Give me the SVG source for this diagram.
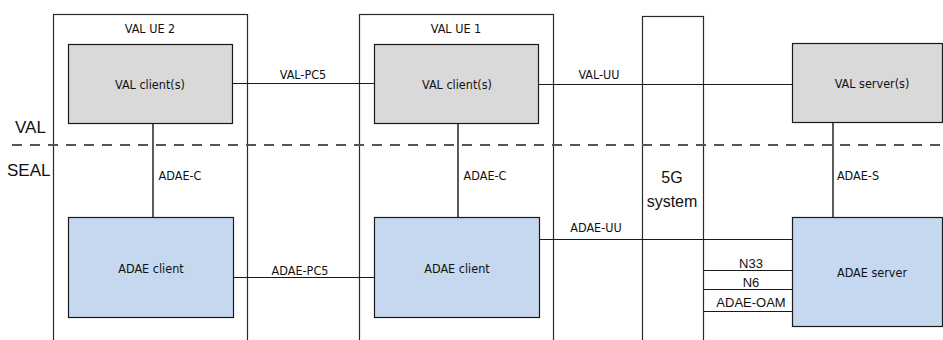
<svg xmlns="http://www.w3.org/2000/svg" width="943" height="340" viewBox="0 0 943 340">
  <style>
    .frame { fill: #ffffff; stroke: #2a2a2a; stroke-width: 1.2; }
    .val { fill: #d9d9d9; stroke: #1a1a1a; stroke-width: 1.2; }
    .adae { fill: #c6d8ef; stroke: #1a1a1a; stroke-width: 1.2; }
    .link { fill: none; stroke: #1a1a1a; stroke-width: 1.2; }
    .drop { fill: none; stroke: #333333; stroke-width: 1.6; }
    .layer { fill: none; stroke: #555555; stroke-width: 2; stroke-dasharray: 10 8; }
    .lbl { font-family: "Liberation Sans Narrow", "DejaVu Sans Condensed", "Liberation Sans", sans-serif; font-size: 12.5px; fill: #111111; }
    .mid { text-anchor: middle; }
    .big { font-family: "Liberation Sans", Arial, sans-serif; font-size: 17px; fill: #111111; }
    .sys { font-family: "Liberation Sans", Arial, sans-serif; font-size: 16px; fill: #111111; text-anchor: middle; }
    .iface { font-family: "Liberation Sans", Arial, sans-serif; font-size: 13px; fill: #111111; text-anchor: middle; }
  </style>

  <!-- UE frames and 5G system column -->
  <g id="ue2">
    <rect class="frame" x="53.5" y="14.5" width="194" height="340"/>
    <text class="lbl mid" x="150" y="33">VAL UE 2</text>
  </g>
  <g id="ue1">
    <rect class="frame" x="359.5" y="14.5" width="194" height="340"/>
    <text class="lbl mid" x="456" y="33">VAL UE 1</text>
  </g>
  <g id="system5g">
    <rect class="frame" x="642.5" y="16.5" width="61" height="340"/>
    <text class="sys" x="672" y="183">5G</text>
    <text class="sys" x="672" y="207">system</text>
  </g>

  <!-- Layer boundary -->
  <g id="layers">
    <line class="layer" x1="12" y1="145" x2="943" y2="145"/>
    <text class="big" x="15" y="133">VAL</text>
    <text class="big" x="7" y="176">SEAL</text>
  </g>

  <!-- Connectors -->
  <g id="connectors">
    <line class="drop" x1="153" y1="123" x2="153" y2="217"/>
    <line class="drop" x1="458" y1="123" x2="458" y2="217"/>
    <line class="drop" x1="833" y1="122" x2="833" y2="217"/>
    <line class="link" x1="232" y1="83.5" x2="374" y2="83.5"/>
    <line class="link" x1="538" y1="84.5" x2="792" y2="84.5"/>
    <line class="link" x1="233" y1="277.5" x2="374" y2="277.5"/>
    <line class="link" x1="539" y1="239.5" x2="792" y2="239.5"/>
    <line class="link" x1="703" y1="270.5" x2="792" y2="270.5"/>
    <line class="link" x1="703" y1="289.5" x2="792" y2="289.5"/>
    <line class="link" x1="703" y1="311.5" x2="792" y2="311.5"/>
    <text class="lbl mid" x="303" y="79">VAL-PC5</text>
    <text class="lbl mid" x="599" y="79">VAL-UU</text>
    <text class="lbl mid" x="180" y="180">ADAE-C</text>
    <text class="lbl mid" x="485" y="180">ADAE-C</text>
    <text class="lbl mid" x="858" y="180">ADAE-S</text>
    <text class="lbl mid" x="300" y="275">ADAE-PC5</text>
    <text class="lbl mid" x="596" y="232">ADAE-UU</text>
    <text class="iface" x="751" y="268">N33</text>
    <text class="iface" x="751" y="287">N6</text>
    <text class="iface" x="751" y="307">ADAE-OAM</text>
  </g>

  <!-- Nodes -->
  <g id="ue2-val-client">
    <rect class="val" x="68.5" y="44.5" width="164" height="79"/>
    <text class="lbl mid" x="150" y="89">VAL client(s)</text>
  </g>
  <g id="ue1-val-client">
    <rect class="val" x="374.5" y="44.5" width="164" height="79"/>
    <text class="lbl mid" x="457" y="89">VAL client(s)</text>
  </g>
  <g id="val-server">
    <rect class="val" x="792.5" y="43.5" width="150" height="79"/>
    <text class="lbl mid" x="872" y="88">VAL server(s)</text>
  </g>
  <g id="ue2-adae-client">
    <rect class="adae" x="68.5" y="217.5" width="165" height="100"/>
    <text class="lbl mid" x="151" y="273">ADAE client</text>
  </g>
  <g id="ue1-adae-client">
    <rect class="adae" x="374.5" y="217.5" width="165" height="100"/>
    <text class="lbl mid" x="457" y="273">ADAE client</text>
  </g>
  <g id="adae-server">
    <rect class="adae" x="792.5" y="217.5" width="150" height="109"/>
    <text class="lbl mid" x="872" y="277">ADAE server</text>
  </g>
</svg>
